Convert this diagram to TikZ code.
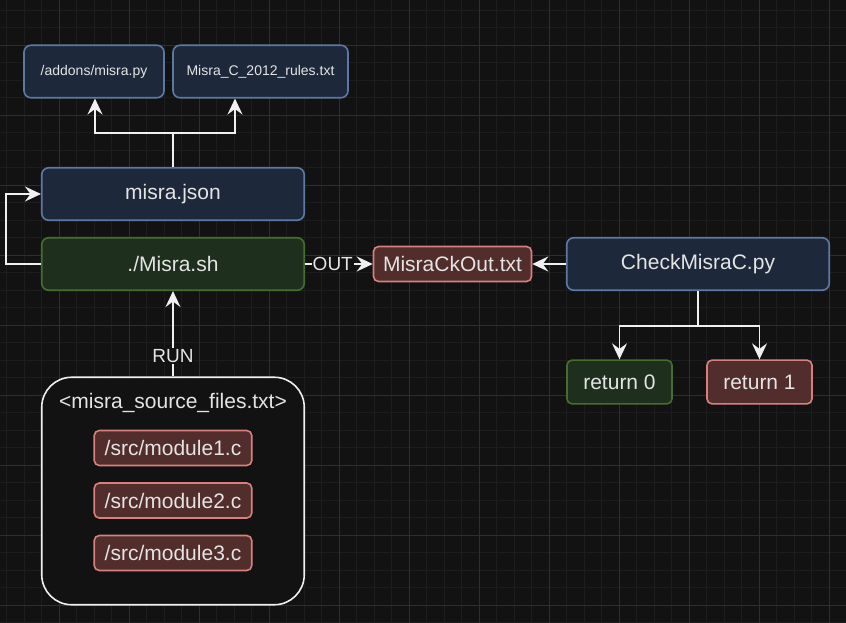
\documentclass[tikz,border=0pt]{standalone}
\usepackage{fontspec}
\setmainfont{Liberation Sans}
\usetikzlibrary{arrows.meta,calc}

\definecolor{bg}{HTML}{121212}
\definecolor{gridminor}{HTML}{1D1D1D}
\definecolor{gridmajor}{HTML}{2E2E2E}
\definecolor{txt}{HTML}{E4E4E4}
\definecolor{wire}{HTML}{F0F0F0}
\definecolor{bluefill}{HTML}{1D293B}
\definecolor{blueline}{HTML}{5C79A3}
\definecolor{greenfill}{HTML}{1F2F1E}
\definecolor{greenline}{HTML}{446E2C}
\definecolor{redfill}{HTML}{512D2B}
\definecolor{redline}{HTML}{D7817E}

\tikzset{
  box/.style={rounded corners=7pt, line width=1.6pt, inner sep=0pt, align=center,
    text=txt, font=\fontsize{21}{25}\selectfont},
  bluebox/.style={box, fill=bluefill, draw=blueline, minimum width=262.5pt, minimum height=52.5pt},
  greenbox/.style={box, fill=greenfill, draw=greenline},
  redbox/.style={box, fill=redfill, draw=redline, rounded corners=5pt},
  smallfont/.style={font=\fontsize{14}{17}\selectfont},
  arr/.style={draw=wire, line width=1.6pt,
    -{Stealth[length=16pt, width=15pt, inset=5.5pt]}},
  edgelabel/.style={fill=bg, text=txt, inner sep=1pt, font=\fontsize{19}{22}\selectfont},
}

\begin{document}
\begin{tikzpicture}[x=1pt, y=-1pt]
  % canvas and grid
  \fill[bg] (0,0) rectangle (846,623);
  \useasboundingbox (0,0) rectangle (846,623);
  \foreach \i in {0,...,48}
    \draw[gridminor, line width=0.8pt] ({6.5+17.5*\i},0) -- ({6.5+17.5*\i},623);
  \foreach \i in {0,...,35}
    \draw[gridminor, line width=0.8pt] (0,{10+17.5*\i}) -- (846,{10+17.5*\i});
  \foreach \i in {0,...,11}
    \draw[gridmajor, line width=0.8pt] ({59+70*\i},0) -- ({59+70*\i},623);
  \foreach \i in {0,...,8}
    \draw[gridmajor, line width=0.8pt] (0,{45+70*\i}) -- (846,{45+70*\i});

  % top row: resources loaded by misra.json
  \node[bluebox, smallfont, minimum width=140pt, minimum height=52.5pt] (addons) at (94,71.5) {/addons/misra.py};
  \node[bluebox, smallfont, minimum width=175pt, minimum height=52.5pt] (rules) at (260.5,71.5) {Misra\_C\_2012\_rules.txt};

  % main chain
  \node[bluebox] (json) at (173,194) {misra.json};
  \node[greenbox, minimum width=262.5pt, minimum height=52.5pt] (misrash) at (173,264) {./Misra.sh};
  \node[redbox, minimum width=158pt, minimum height=35pt] (ckout) at (452.5,264) {MisraCkOut.txt};
  \node[bluebox] (check) at (698,264) {CheckMisraC.py};
  \node[greenbox, rounded corners=5pt, minimum width=105pt, minimum height=43.75pt] (ret0) at (619.5,382) {return 0};
  \node[redbox, minimum width=105pt, minimum height=43.75pt] (ret1) at (759.5,382) {return 1};

  % source list container
  \node[draw=wire, fill=bg, line width=1.6pt, rounded corners=30pt,
        minimum width=262.5pt, minimum height=227.5pt] (list) at (173,491) {};
  \node[text=txt, font=\fontsize{21}{25}\selectfont] (listtitle) at (173,403) {<misra\_source\_files.txt>};
  \node[redbox, minimum width=157.5pt, minimum height=35pt] (mod1) at (173,448) {/src/module1.c};
  \node[redbox, minimum width=157.5pt, minimum height=35pt] (mod2) at (173,500.5) {/src/module2.c};
  \node[redbox, minimum width=157.5pt, minimum height=35pt] (mod3) at (173,553) {/src/module3.c};

  % connectors
  \coordinate (split) at (173,133);
  \draw[draw=wire, line width=1.6pt] (json.north) -- (split);
  \draw[arr] (split) -| ([xshift=1pt]addons.south);
  \draw[arr] (split) -| ([xshift=-25.5pt]rules.south);

  \draw[arr] (misrash.west) -- ++(-35,0) |- (json.west);

  \draw[arr] (misrash.east) -- node[edgelabel, pos=0.41] {OUT} (ckout.west);
  \draw[arr] (check.west) -- (ckout.east);

  \coordinate (fork) at (698,326);
  \draw[draw=wire, line width=1.6pt] (check.south) -- (fork);
  \draw[arr] (fork) -| (ret0.north);
  \draw[arr] (fork) -| (ret1.north);

  \draw[arr] (list.north) -- node[edgelabel, pos=0.24] {RUN} (misrash.south);
\end{tikzpicture}
\end{document}
